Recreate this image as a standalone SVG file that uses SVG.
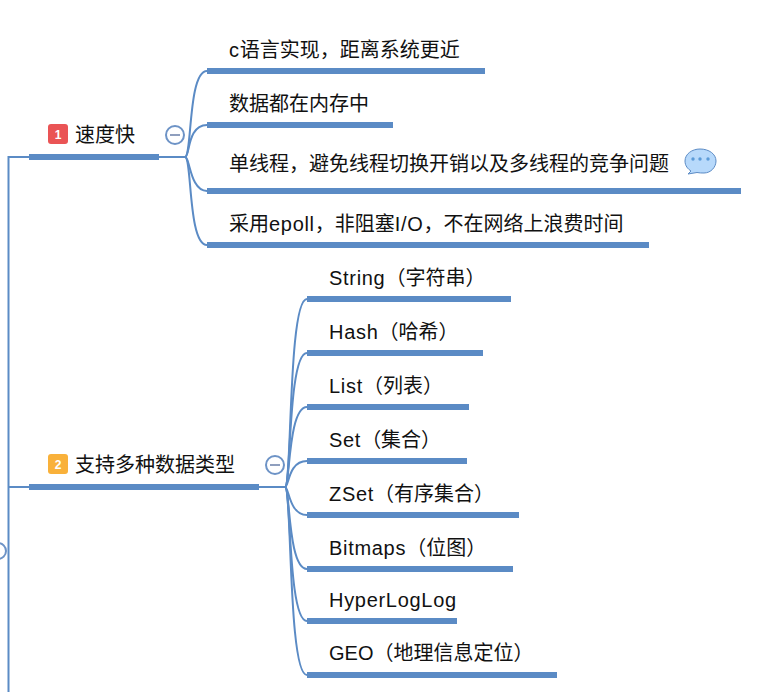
<svg xmlns="http://www.w3.org/2000/svg" width="764" height="692" viewBox="0 0 764 692">
<style>
text{font-family:"Liberation Sans","Noto Sans CJK SC",sans-serif;font-size:20px;fill:#111}
.l{letter-spacing:.7px}
.bar{stroke:#5b8bc5;stroke-width:6;fill:none}
.line{stroke:#5b8bc5;stroke-width:2;fill:none}
.fold{fill:#fff;stroke:#6d93c6;stroke-width:2}
.minus{stroke:#8f9fbe;stroke-width:2}
text.badge{font-size:12px;font-weight:bold;fill:#fff;text-anchor:middle}
</style>
<rect width="764" height="692" fill="#fff"/>
<g id="connectors">
<path class="line" d="M8.500 692V157H29M8.500 487H29"/>
<path class="line" d="M159 157H185"/>
<path class="line" d="M185 157C192 157 188 71 207 71"/>
<path class="line" d="M185 157C190 157 187 125 207 125"/>
<path class="line" d="M185 157C190 157 190 191 207 191"/>
<path class="line" d="M185 157C192 157 188 245 207 245"/>
<path class="line" d="M259 487H285"/>
<path class="line" d="M285 487C292 487 288 299 307 299"/>
<path class="line" d="M285 487C291 487 288 353 307 353"/>
<path class="line" d="M285 487C290 487 288 407 307 407"/>
<path class="line" d="M285 487C289 487 288 461 307 461"/>
<path class="line" d="M285 487C289 487 289 515 307 515"/>
<path class="line" d="M285 487C290 487 288 569 307 569"/>
<path class="line" d="M285 487C291 487 288 621 307 621"/>
<path class="line" d="M285 487C292 487 288 675 307 675"/>
</g>
<g id="node-speed">
<path class="bar" d="M29 157H159"/>
<rect x="48" y="124" width="20" height="20" rx="3" fill="#ea5455"/>
<text class="badge" x="58" y="139">1</text>
<text x="75" y="142">速度快</text>
<circle class="fold" cx="175" cy="135" r="9"/>
<path class="minus" d="M170 135H180"/>
</g>
<g id="node-speed-1"><path class="bar" d="M207 71H485"/><text x="229" y="57"><tspan class="l">c</tspan>语言实现，距离系统更近</text></g>
<g id="node-speed-2"><path class="bar" d="M207 125H393"/><text x="229" y="111">数据都在内存中</text></g>
<g id="node-speed-3"><path class="bar" d="M207 191H741"/><text x="229" y="171">单线程，避免线程切换开销以及多线程的竞争问题</text>
<path d="M700 149C692 149 685 154 685 161C685 166 688 169 691 171L688 174L697 172.500C699 173 702 173 704 173C711 173 716 167 716 161C716 154 709 149 700 149Z" fill="#b7d9fb" stroke="#5b8bc5" stroke-width="1"/>
<circle cx="693" cy="159" r="1.700" fill="#5b9bd8"/><circle cx="700" cy="159" r="1.700" fill="#5b9bd8"/><circle cx="708" cy="159" r="1.700" fill="#5b9bd8"/></g>
<g id="node-speed-4"><path class="bar" d="M207 245H649"/><text x="229" y="231">采用<tspan class="l">epoll</tspan>，非阻塞<tspan class="l">I/O</tspan>，不在网络上浪费时间</text></g>
<g id="node-types">
<path class="bar" d="M29 487H259"/>
<rect x="48" y="454" width="20" height="20" rx="3" fill="#f9b13a"/>
<text class="badge" x="58" y="469">2</text>
<text x="75" y="472">支持多种数据类型</text>
<circle class="fold" cx="275" cy="465" r="9"/>
<path class="minus" d="M270 465H280"/>
</g>
<g id="node-fold-root"><circle class="fold" cx="-2" cy="551" r="8"/></g>
<g id="node-types-1"><path class="bar" d="M307 299H511"/><text x="329" y="285"><tspan class="l">String</tspan>（字符串）</text></g>
<g id="node-types-2"><path class="bar" d="M307 353H483"/><text x="329" y="339"><tspan class="l">Hash</tspan>（哈希）</text></g>
<g id="node-types-3"><path class="bar" d="M307 407H469"/><text x="329" y="393"><tspan class="l">List</tspan>（列表）</text></g>
<g id="node-types-4"><path class="bar" d="M307 461H467"/><text x="329" y="447"><tspan class="l">Set</tspan>（集合）</text></g>
<g id="node-types-5"><path class="bar" d="M307 515H519"/><text x="329" y="501"><tspan class="l">ZSet</tspan>（有序集合）</text></g>
<g id="node-types-6"><path class="bar" d="M307 569H513"/><text x="329" y="555"><tspan class="l">Bitmaps</tspan>（位图）</text></g>
<g id="node-types-7"><path class="bar" d="M307 621H457"/><text x="329" y="607" class="l">HyperLogLog</text></g>
<g id="node-types-8"><path class="bar" d="M307 675H557"/><text x="329" y="660">GEO（地理信息定位）</text></g>
</svg>
